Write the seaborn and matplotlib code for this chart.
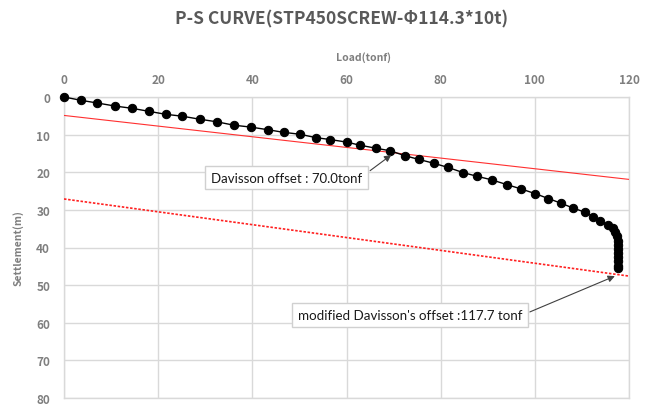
import matplotlib
matplotlib.use("Agg")
import matplotlib.pyplot as plt
import seaborn as sns
import pandas as pd

load = [0, 3.7, 7.1, 10.8, 14.4, 18.0, 21.6, 25.1, 28.8, 32.5, 36.1, 39.7, 43.3, 46.7,
        50.1, 53.5, 56.5, 60.1, 62.8, 66.2, 69.3, 72.4, 75.4, 78.5, 81.5, 84.8, 87.8,
        90.8, 94.1, 97.0, 100.1, 102.9, 105.5, 108.1, 110.6, 112.4, 113.8, 115.6, 116.5,
        117.1, 117.5, 117.6, 117.7, 117.7, 117.7, 117.7, 117.7, 117.7, 117.7]
settle = [0, 0.9, 1.6, 2.4, 3.0, 3.8, 4.6, 5.1, 5.9, 6.6, 7.5, 8.0, 8.7, 9.4,
          9.9, 10.8, 11.3, 12.0, 12.8, 13.6, 14.3, 15.6, 16.6, 17.6, 18.7, 20.1, 21.1,
          22.0, 23.3, 24.4, 25.7, 27.0, 28.2, 29.5, 30.6, 31.8, 33.0, 34.0, 34.8,
          35.9, 37.0, 38.2, 39.3, 40.4, 41.5, 42.6, 43.7, 44.8, 45.4]

dav_x = [0, 120]
dav_y = [4.9, 21.9]
mod_x = [0, 120]
mod_y = [27.1, 47.6]

title = "P-S CURVE(STP450SCREW-Φ114.3*10t)"
xlabel = "Load(tonf)"
ylabel = "Settlement(m)"
label1 = "Davisson offset : 70.0tonf"
label2 = "modified Davisson's offset :117.7 tonf"
xticks = [0, 20, 40, 60, 80, 100, 120]
yticks = [0, 10, 20, 30, 40, 50, 60, 70, 80]

sns.set_theme(style="white")
plt.rcParams['font.family'] = ['Noto Sans CJK KR', 'DejaVu Sans']

fig = plt.figure(figsize=(6.47, 4.06), dpi=100)
ax = fig.add_axes([64 / 647, 1 - 399 / 406, (629 - 64) / 647, (399 - 98) / 406])

grid_c = "#d9d9d9"
ax.set_xlim(0, 120)
ax.set_ylim(80, 0)
ax.set_xticks(xticks)
ax.set_yticks(yticks)
ax.grid(True, color=grid_c, linewidth=1)
ax.set_axisbelow(True)
for s in ax.spines.values():
    s.set_color(grid_c)
    s.set_linewidth(1)

df = pd.DataFrame({"load": load, "settle": settle})
sns.lineplot(data=df, x="load", y="settle", sort=False, estimator=None, ax=ax,
             color="black", linewidth=1.0, marker="o", markersize=6,
             markeredgecolor="black", zorder=4, clip_on=False)
sns.lineplot(x=dav_x, y=dav_y, ax=ax, color="#ff3030", linewidth=0.8, zorder=3)
sns.lineplot(x=mod_x, y=mod_y, ax=ax, color="#ff2020", linewidth=1.2,
             linestyle=(0, (1.5, 1)), zorder=3)

ax.xaxis.tick_top()
ax.xaxis.set_label_position("top")
ax.tick_params(axis="both", length=0, labelsize=8.5, labelcolor="#7f7f7f")
for lab in ax.get_xticklabels() + ax.get_yticklabels():
    lab.set_fontweight("bold")
ax.tick_params(axis="x", pad=8)
ax.tick_params(axis="y", pad=10)
ax.set_xlabel(xlabel, fontsize=7.5, color="#7f7f7f", labelpad=9, fontweight="bold")
ax.set_ylabel(ylabel, fontsize=7.5, color="#7f7f7f", labelpad=9, fontweight="bold")
ax.xaxis.label.set_x(0.53)
fig.suptitle(title, x=0.528, y=0.975, fontsize=12.5, color="#595959", fontweight="bold")

box = dict(boxstyle="square,pad=0.45", facecolor="white", edgecolor="#d0d0d0", linewidth=1)
arrow1 = dict(arrowstyle="-|>", color="#404040", linewidth=0.8, mutation_scale=10,
              relpos=(1.0, 0.6), shrinkA=1, shrinkB=0)
arrow2 = dict(arrowstyle="-|>", color="#404040", linewidth=0.8, mutation_scale=10,
              relpos=(1.0, 0.5), shrinkA=1, shrinkB=0)
ax.annotate(label1, xy=(69.5, 15.4), xytext=(31.3, 21.4), fontsize=9.5,
            family=["Lato", "DejaVu Sans"], color="#1a1a1a", va="center", ha="left",
            bbox=box, arrowprops=arrow1, zorder=6)
ax.annotate(label2, xy=(117.0, 47.6), xytext=(49.6, 58.0), fontsize=9.6,
            family=["Lato", "DejaVu Sans"], color="#1a1a1a", va="center", ha="left",
            bbox=box, arrowprops=arrow2, zorder=6)

fig.savefig("out.png", dpi=100)
